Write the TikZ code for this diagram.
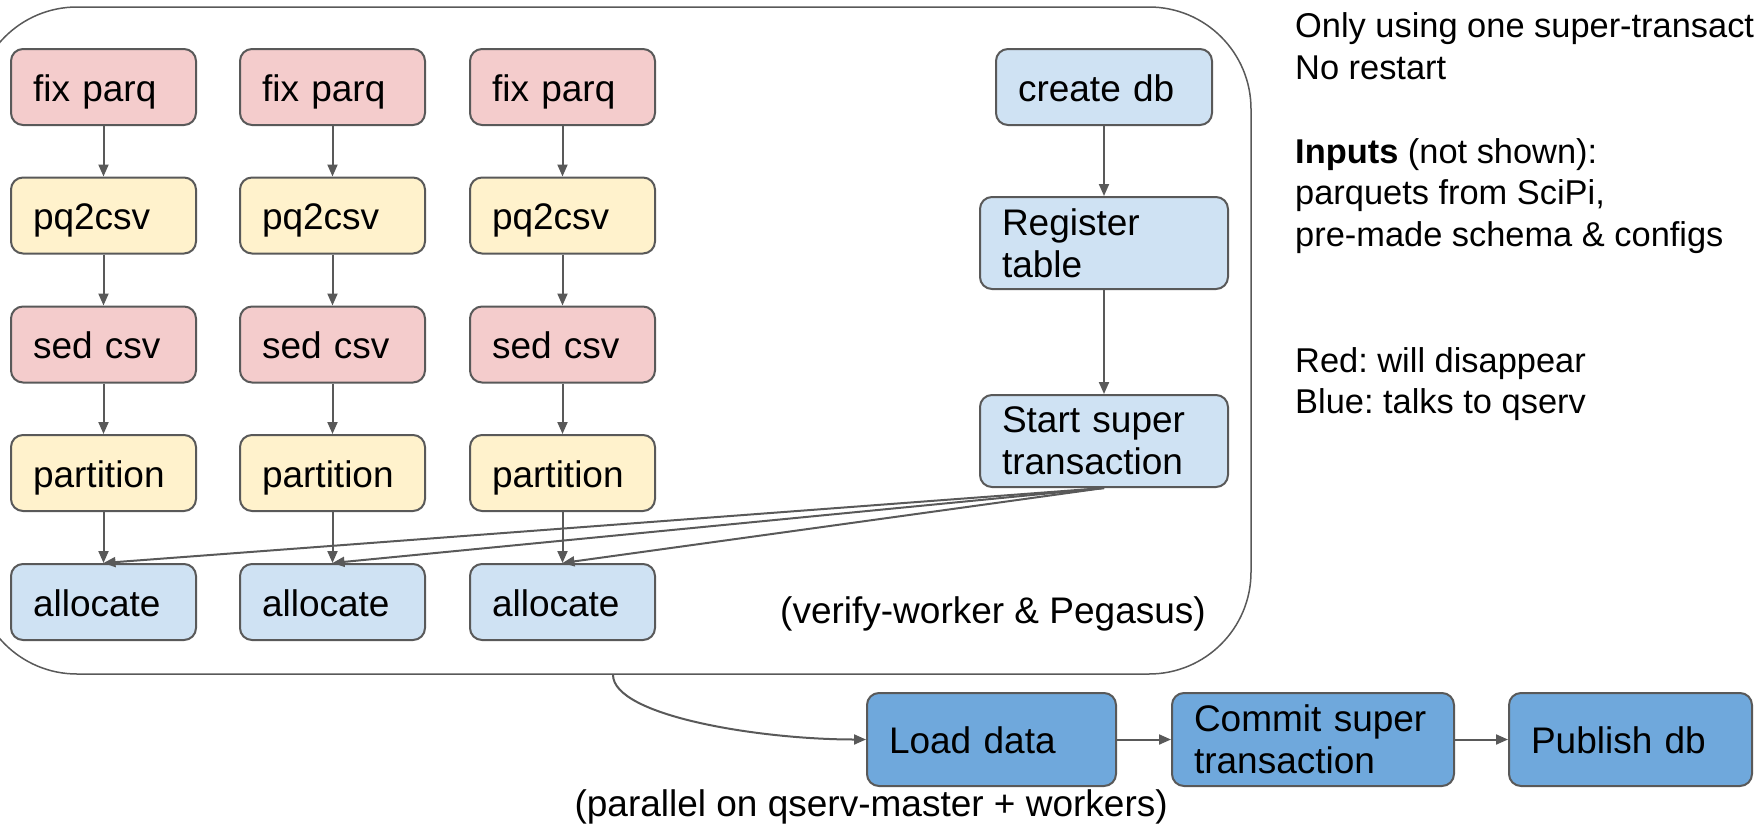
\documentclass[tikz,border=0pt]{standalone}
\usepackage{fontspec}
\setmainfont{Liberation Sans}
\usetikzlibrary{arrows.meta}
\definecolor{redfill}{HTML}{F4CCCC}
\definecolor{yelfill}{HTML}{FFF2CC}
\definecolor{bluefill}{HTML}{CFE2F3}
\definecolor{dblue}{HTML}{6FA8DC}
\definecolor{edgegray}{HTML}{595959}
\newcommand\bxfont{\fontsize{37}{42}\selectfont}
\newcommand\ntfont{\fontsize{34.4}{42}\selectfont}
\frenchspacing
\begin{document}
\begin{tikzpicture}[x=1pt,y=-1pt,
  box/.style={draw=edgegray, line width=2pt, rounded corners=12pt, inner xsep=22pt, inner ysep=0pt, align=left, font=\bxfont},
  oneline/.style={text height=32pt, text depth=4pt},
  colbox/.style={box, oneline, text width=141pt, minimum height=76pt},
  rbox/.style={fill=redfill},
  ybox/.style={fill=yelfill},
  bbox/.style={fill=bluefill},
  dbox/.style={fill=dblue},
  arr/.style={draw=edgegray, line width=2pt, -{Triangle[length=12pt,width=10pt]}},
  note/.style={font=\ntfont, anchor=base west, inner sep=0pt},
  lab/.style={font=\bxfont, anchor=base east, inner sep=0pt}]
\useasboundingbox (0,0) rectangle (1754,825);

% container
\node[draw=edgegray, line width=1.5pt, rounded corners=102pt, minimum width=1276pt, minimum height=667pt, inner sep=0pt] (grp) at (613,340.5) {};

\foreach \c/\x in {1/103.5, 2/332.5, 3/562.5} {
  \node[colbox,rbox] (f\c) at (\x,87) {fix parq};
  \node[colbox,ybox] (p\c) at (\x,215.5) {pq2csv};
  \node[colbox,rbox] (s\c) at (\x,344.5) {sed csv};
  \node[colbox,ybox] (t\c) at (\x,473) {partition};
  \node[colbox,bbox] (a\c) at (\x,602) {allocate};
  \draw[arr] (f\c.south) -- (p\c.north);
  \draw[arr] (p\c.south) -- (s\c.north);
  \draw[arr] (s\c.south) -- (t\c.north);
  \draw[arr] (t\c.south) -- (a\c.north);
}

\node[box,oneline,bbox,text width=172pt,minimum height=76pt] (cdb) at (1104,87) {create db};
\node[box,bbox,text width=204pt,minimum height=92pt] (reg) at (1104,243) {Register\\table};
\node[box,bbox,text width=204pt,minimum height=92pt] (sst) at (1104,441) {Start super\\transaction};
\draw[arr] (cdb.south) -- (reg.north);
\draw[arr] (reg.south) -- (sst.north);
\foreach \c in {1,2,3} { \draw[arr] (sst.south) -- (a\c.north); }

\node[lab] (vw) at (1206,623) {(verify-worker \& Pegasus)};

\node[box,oneline,dbox,text width=205pt,minimum height=93pt] (load) at (991.5,739.5) {Load data};
\node[box,dbox,text width=238pt,minimum height=93pt] (commit) at (1313,739.5) {Commit super\\transaction};
\node[box,oneline,dbox,text width=199pt,minimum height=93pt] (pub) at (1630.5,739.5) {Publish db};
\draw[arr] (grp.south) to[out=-90,in=180,out distance=41pt,in distance=107pt] (load.west);
\draw[arr] (load.east) -- (commit.west);
\draw[arr] (commit.east) -- (pub.west);

\node[lab] (par) at (1168,816) {(parallel on qserv-master + workers)};

\node[note] (n1) at (1295,37) {Only using one super-transact};
\node[note] (n2) at (1295,79) {No restart};
\node[note] (n3) at (1295,163) {\textbf{Inputs} (not shown):};
\node[note] (n4) at (1295,204) {parquets from SciPi,};
\node[note] (n5) at (1295,246) {pre-made schema \& configs};
\node[note] (n6) at (1295,372) {Red: will disappear};
\node[note] (n7) at (1295,413) {Blue: talks to qserv};
\end{tikzpicture}
\end{document}
